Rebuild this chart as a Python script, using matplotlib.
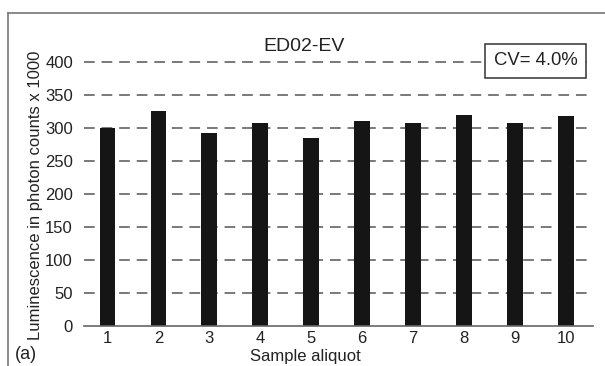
import matplotlib.pyplot as plt
from matplotlib.lines import Line2D

plt.rcParams['font.family'] = ['Liberation Sans', 'DejaVu Sans']

aliquots = [1, 2, 3, 4, 5, 6, 7, 8, 9, 10]
counts = [300, 325, 292, 308, 285, 311, 307, 320, 307, 318]
yticks = [0, 50, 100, 150, 200, 250, 300, 350, 400]
title = "ED02-EV"
cv_text = "CV= 4.0%"

fig = plt.figure(figsize=(6.05, 3.66), dpi=100)
ax = fig.add_axes([0.139, 0.109, 0.841, 0.731])

grid_color = "#555555"
for v in yticks[1:]:
    ax.axhline(v, color=grid_color, lw=1.1, dashes=(7, 4.5), zorder=1)

ax.bar(aliquots, counts, width=0.31, color="#151515", zorder=2)

ax.set_xlim(0.54, 10.53)
ax.set_ylim(0, 405)
ax.set_xticks(aliquots)
ax.set_yticks(yticks)
ax.tick_params(axis="both", length=0, labelsize=12, colors="#222222")
ax.tick_params(axis="y", pad=8)
ax.tick_params(axis="x", pad=3.5)
for s in ["top", "right", "left"]:
    ax.spines[s].set_visible(False)
ax.spines["bottom"].set_color("#666666")
ax.spines["bottom"].set_linewidth(1.2)

fig.text(0.504, 0.026, "Sample aliquot", ha="center", va="center", fontsize=12, color="#222222")
fig.text(0.058, 0.466, "Luminescence in photon counts x 1000", rotation=90,
         ha="center", va="center", fontsize=12, color="#222222")
fig.text(0.503, 0.874, title, ha="center", va="center", fontsize=14, color="#222222")
fig.text(0.024, 0.008, "(a)", ha="left", va="bottom", fontsize=13, color="#222222")

fig.text(0.885, 0.834, cv_text, ha="center", va="center", fontsize=13.3, color="#222222",
         bbox=dict(boxstyle="square,pad=0.45", fc="white", ec="#333333", lw=1.1), zorder=5)

# outer frame of the panel
fig.add_artist(Line2D([8 / 605, 1], [1 - 13 / 366, 1 - 13 / 366], color="#777777", lw=1.2))
fig.add_artist(Line2D([8 / 605, 8 / 605], [0, 1 - 13 / 366], color="#777777", lw=1.2))

fig.savefig("out.png", dpi=100)
plt.close()
